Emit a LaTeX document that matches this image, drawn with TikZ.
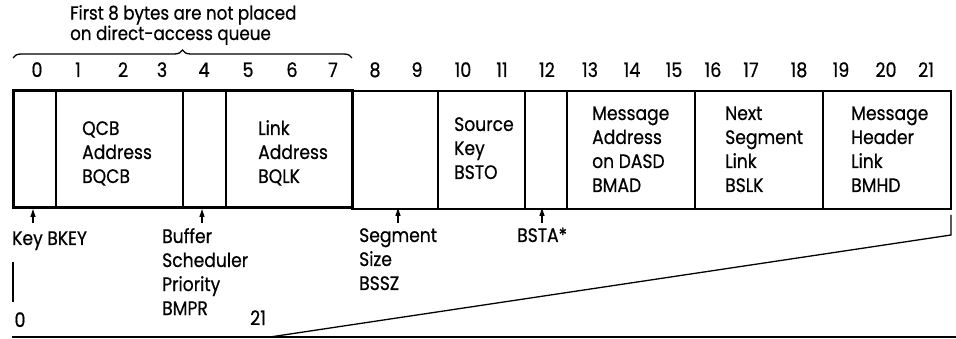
\documentclass[tikz,border=0pt]{standalone}
\usepackage{fontspec}
\setmainfont{Poppins}[FakeBold=0.6, FakeStretch=0.88]
\usetikzlibrary{decorations.pathreplacing,arrows.meta}
\begin{document}
\begin{tikzpicture}[x=1pt,y=-1pt,
  lbl/.style={inner sep=0pt, anchor=base west, align=left, font=\fontsize{19.5}{24}\selectfont},
  ttl/.style={inner sep=0pt, anchor=base west, align=left, font=\fontsize{19}{19}\selectfont},
  num/.style={inner sep=0pt, anchor=base, font=\fontsize{20}{24}\selectfont},
  thinline/.style={line width=1.3pt},
  thickline/.style={line width=3pt},
  ptr/.style={-{Triangle[width=5pt,length=8pt]}, line width=1.3pt}]
\path[use as bounding box] (0,0) rectangle (956,339);

% title and brace (anchor = baseline of last line)
\node[ttl] (title) at (70,40) {First 8 bytes are not placed\\on direct-access queue};
\draw[thinline, decorate, decoration={brace, amplitude=8pt}] (13,58) -- (352,58);

% byte numbers
\foreach \n/\x in {0/37,1/78,2/123,3/162,4/204,5/248,6/292,7/333,8/375,9/417,10/463,11/502,12/547,13/590,14/632,15/674,16/713,17/751,18/799,19/841,20/886,21/926}
  \node[num] (n\n) at (\x,77) {\n};

% thin part of the record
\draw[thinline] (352,91) rectangle (951,209);
\foreach \x in {438,525,567,695,823}
  \draw[thinline] (\x,91) -- (\x,209);
% thick part (first 8 bytes)
\foreach \x in {56,183,226}
  \draw[thinline] (\x,91) -- (\x,209);
\draw[thickline] (13,91) rectangle (352,208);

% cell texts (anchor = baseline of last line)
\node[lbl] (qcb) at (82,183) {QCB\\Address\\BQCB};
\node[lbl] (link) at (258,183) {Link\\Address\\BQLK};
\node[lbl] (src) at (454,179) {Source\\Key\\BSTO};
\node[lbl] (madr) at (592,192) {Message\\Address\\on DASD\\BMAD};
\node[lbl] (next) at (725,192) {Next\\Segment\\Link\\BSLK};
\node[lbl] (mhdr) at (851,192) {Message\\Header\\Link\\BMHD};

% labels below
\node[lbl] (key) at (12,245) {Key BKEY};
\node[lbl] (buf) at (162,315) {Buffer\\Scheduler\\Priority\\BMPR};
\node[lbl] (seg) at (359,290) {Segment\\Size\\BSSZ};
\node[lbl] (bsta) at (517,242) {BSTA*};

% pointer arrows
\coordinate (ka) at (33,223);   \coordinate (kb) at (33,209);
\coordinate (ba) at (202,223);  \coordinate (bb) at (202,209);
\coordinate (sa) at (398,223);  \coordinate (sb) at (398,208);
\coordinate (ta) at (542,223);  \coordinate (tb) at (542,208);
\draw[ptr] (ka) -- (kb);
\draw[ptr] (ba) -- (bb);
\draw[ptr] (sa) -- (sb);
\draw[ptr] (ta) -- (tb);

% expansion lines
\coordinate (r1) at (951,215);
\coordinate (r2) at (951,235);
\coordinate (r3) at (270,337);
\draw[thinline] (r1) -- (r2) -- (r3);
\coordinate (l1) at (13,262);
\coordinate (l2) at (13,302);
\draw[thinline] (l1) -- (l2);
\coordinate (b1) at (12,337);
\coordinate (b2) at (956,337);
\draw[line width=2pt] (b1) -- (b2);

\node[num] (zero) at (20,327) {0};
\node[num] (tw) at (258,325) {21};
\end{tikzpicture}
\end{document}
